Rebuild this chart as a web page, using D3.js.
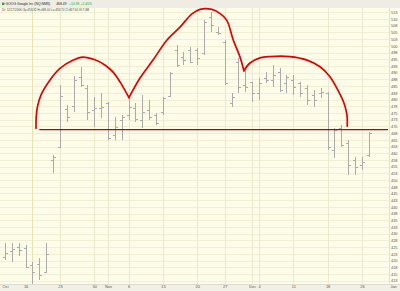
<!DOCTYPE html>
<html lang="en">
<head>
<meta charset="utf-8">
<title>GOOG | head and shoulders</title>
<style>
body { margin: 0; padding: 0; background-color: #fdfce8; }
svg { display: block; font-family: 'Liberation Sans', Arial, sans-serif; }
.axis path { display: none; }
.axis line { display: none; }
.axis text { fill: #555; font-size: 3.9px; }
.bar { stroke: #ababab; stroke-width: 1px; shape-rendering: crispEdges; }
</style>
</head>
<body>
<div id="chart"></div>
<script src="https://d3js.org/d3.v7.min.js"></script>
<script>

const days = ["10/11","10/12","10/13","10/16","10/17","10/18","10/19","10/20","10/23","10/24",
	"10/25","10/26","10/27","10/30","10/31","11/01","11/02","11/03","11/06","11/07",
	"11/08","11/09","11/10","11/13","11/14","11/15","11/16","11/17","11/20","11/21",
	"11/22","11/24","11/27","11/28","11/29","11/30","12/01","12/04","12/05","12/06",
	"12/07","12/08","12/11","12/12","12/13","12/14","12/15","12/18","12/19","12/20",
	"12/21","12/22","12/26","12/27"];

const opens = [421.3,423.6,425.1,424.6,418.3,418.7,415.6,457.5,462.2,476.4,
	477.6,488.5,484.2,476.1,476.7,478.8,466.8,472.4,474.2,476.7,
	472.4,476.1,474.2,475.5,481.3,498.5,496.0,498.5,498.5,497.2,
	510.9,505.3,501.5,478.7,494.0,485.4,486.5,482.4,488.0,487.3,
	490.4,486.0,487.3,486.2,484.3,481.7,482.4,482.3,461.2,469.4,
	463.7,457.5,455.6,459.3];

const highs = [426.4,426.4,426.7,425.8,419.6,420.8,426.4,459.3,485.4,478.0,
	488.8,492.2,485.4,480.8,482.3,479.2,473.6,474.2,480.5,478.6,
	481.7,479.8,474.9,481.1,490.4,500.3,497.8,499.7,499.1,509.6,
	512.7,507.1,502.2,482.3,495.4,491.0,486.6,487.9,490.4,492.9,
	491.6,489.1,489.1,486.6,485.4,483.5,484.2,482.9,469.3,470.5,
	464.9,458.7,458.7,468.0];

const lows = [420.2,419.6,421.7,417.1,411.3,412.8,415.3,452.5,461.8,471.7,
	475.5,484.8,472.4,469.9,473.0,464.9,464.9,464.9,472.4,471.7,
	469.3,472.4,470.5,474.2,481.1,492.2,492.9,493.5,492.9,496.6,
	505.3,504.0,485.4,477.3,482.3,482.8,479.2,479.8,486.0,484.8,
	482.9,482.3,481.7,481.1,478.0,477.3,480.5,461.2,458.1,462.4,
	451.9,451.9,453.7,458.7];

const closes = [422.9,424.2,423.9,417.5,415.9,414.6,422.4,458.7,481.3,473.4,
	487.3,485.4,475.5,476.7,477.3,465.6,469.9,473.6,477.3,472.6,
	475.5,473.6,471.1,480.5,489.8,492.9,494.7,494.1,495.4,509.0,
	507.8,504.7,486.0,481.1,484.8,484.6,482.4,486.2,487.3,489.1,
	483.5,488.5,484.8,482.4,479.8,479.8,482.9,462.4,468.6,463.1,
	455.6,455.0,456.8,467.6];

const priceTicks = [512.5,510,507.5,505,502.5,500,497.5,495,492.5,490,487.5,485,482.5,480,
	477.5,475,472.5,470,467.5,465,462.5,460,457.5,455,452.5,450,447.5,445,442.5,440,
	437.5,435,432.5,430,427.5,425,422.5,420,417.5,415,412.5];

const dateTickDays = [0, 3, 8, 13, 15, 18, 23, 28, 32, 36, 37, 42, 47, 52, 57];
const dateTickLabels = ["Oct","16","23","30","Nov","6","13","20","27","Dec","4","11","18","26","Jan"];

const gridDays = [4, 8, 13, 15, 18, 23, 28, 32, 36, 37, 42, 47, 52];

// hand drawn pattern, as [trading day index, price]
const leftShoulder = [[4.52,469.3],[4.55,473.5],[4.75,477.6],[5.3,482.0],[6.56,487.3],[8.01,491.6],
	[9.95,494.7],[11.3,495.8],[13.1,494.8],[14.6,492.8],[15.75,490.2],[16.8,486.4],[18.06,480.7]];
const head = [[18.06,480.7],[19.67,488.0],[21.56,494.7],[23.6,502.2],[25.49,507.0],[27.24,511.9],
	[28.4,513.6],[30.15,513.6],[31.3,512.1],[32.3,509.6],[33.25,502.2],[34.23,495.9],[34.81,490.7]];
const rightShoulder = [[34.81,490.7],[35.69,493.6],[37.14,495.5],[38.6,496.0],[41.51,496.0],[44.0,494.7],
	[45.9,492.2],[47.34,488.5],[48.5,483.5],[49.38,478.7],[49.82,474.2],[49.86,470.1]];
const neckline = [[5.0,468.8],[55.8,468.8]];

const header = {
	name: "GOOG Google Inc (NQ:NMS)",
	last: "468.49",
	change: "+10.96  +2.40%",
	detail: "Dt: 12/27/2006 Op:459.32 Hi:468.00 Lo:458.70 Cl:467.60 Vl:7.0M"
};

drawChart();

function drawChart(){

	const width = 400,
		height = 291,
		plotRight = 389,
		plotTop = 8,
		plotBottom = 284;

	const svg = d3.select("#chart")
		.append("svg")
		.attr("width", width)
		.attr("height", height);

	const xScale = d3.scaleLinear()
		.domain([0, days.length - 1])
		.range([5, 368.8]);

	const yScale = d3.scaleLinear()
		.domain([412.5, 512.5])
		.range([280.7, 12.3]);

	// backgrounds
	svg.append("rect")
		.attr("width", width)
		.attr("height", height)
		.attr("fill", "#fdfce8");

	svg.append("rect")
		.attr("width", width)
		.attr("height", plotTop)
		.attr("fill", "#efede3");

	svg.append("rect")
		.attr("y", plotBottom)
		.attr("width", width)
		.attr("height", height - plotBottom)
		.attr("fill", "#f1f0e6");

	// grid
	svg.selectAll(null)
		.data(priceTicks)
		.enter()
		.append("line")
		.attr("x1", 0)
		.attr("x2", plotRight)
		.attr("y1", function(d){ return Math.round(yScale(d)) + 0.5; })
		.attr("y2", function(d){ return Math.round(yScale(d)) + 0.5; })
		.style("stroke", "#f1efd3")
		.style("stroke-width", "1px");

	svg.selectAll(null)
		.data(gridDays)
		.enter()
		.append("line")
		.attr("x1", function(d){ return Math.round(xScale(d)) + 0.5; })
		.attr("x2", function(d){ return Math.round(xScale(d)) + 0.5; })
		.attr("y1", plotTop)
		.attr("y2", plotBottom)
		.style("stroke", function(d){ return d === 4 ? "#e6e2b4" : "#ebe9cf"; })
		.style("stroke-width", "1px");

	svg.append("line")
		.attr("x1", plotRight + 0.5)
		.attr("x2", plotRight + 0.5)
		.attr("y1", plotTop)
		.attr("y2", plotBottom)
		.style("stroke", "#e4e1c6");

	svg.append("line")
		.attr("x1", 0)
		.attr("x2", width)
		.attr("y1", plotBottom + 0.5)
		.attr("y2", plotBottom + 0.5)
		.style("stroke", "#deddd0");

	// OHLC bars
	const bars = svg.selectAll(null)
		.data(days)
		.enter()
		.append("g");

	bars.append("line")
		.attr("class", "bar")
		.attr("x1", function(_, i){ return Math.round(xScale(i)) + 0.5; })
		.attr("x2", function(_, i){ return Math.round(xScale(i)) + 0.5; })
		.attr("y1", function(_, i){ return yScale(highs[i]); })
		.attr("y2", function(_, i){ return yScale(lows[i]); });

	bars.append("line")
		.attr("class", "bar")
		.attr("x1", function(_, i){ return Math.round(xScale(i)) - 2; })
		.attr("x2", function(_, i){ return Math.round(xScale(i)); })
		.attr("y1", function(_, i){ return Math.round(yScale(opens[i])) + 0.5; })
		.attr("y2", function(_, i){ return Math.round(yScale(opens[i])) + 0.5; });

	bars.append("line")
		.attr("class", "bar")
		.attr("x1", function(_, i){ return Math.round(xScale(i)) + 1; })
		.attr("x2", function(_, i){ return Math.round(xScale(i)) + 3; })
		.attr("y1", function(_, i){ return Math.round(yScale(closes[i])) + 0.5; })
		.attr("y2", function(_, i){ return Math.round(yScale(closes[i])) + 0.5; });

	// axes
	const yAxis = d3.axisRight(yScale)
		.tickValues(priceTicks)
		.tickSize(0)
		.tickPadding(0)
		.tickFormat(function(d){ return Math.round(d); });

	svg.append("g")
		.attr("class", "axis")
		.attr("transform", "translate(391,0)")
		.call(yAxis);

	const xAxis = d3.axisBottom(xScale)
		.tickValues(dateTickDays)
		.tickSize(0)
		.tickPadding(0)
		.tickFormat(function(_, i){ return dateTickLabels[i]; });

	const gX = svg.append("g")
		.attr("class", "axis")
		.attr("transform", "translate(0," + (plotBottom + 1.5) + ")")
		.call(xAxis);

	gX.selectAll("text")
		.attr("text-anchor", function(_, i, n){ return i === n.length - 1 ? "end" : "middle"; })
		.attr("fill", "#444");

	// pattern drawing
	const line = d3.line()
		.x(function(d){ return xScale(d[0]); })
		.y(function(d){ return yScale(d[1]); })
		.curve(d3.curveCatmullRom.alpha(0.5));

	svg.selectAll(null)
		.data([leftShoulder, head, rightShoulder])
		.enter()
		.append("path")
		.attr("d", line)
		.style("fill", "none")
		.style("stroke", "#e30000")
		.style("stroke-width", "1.7px")
		.style("stroke-linejoin", "round")
		.style("stroke-linecap", "round");

	svg.append("path")
		.attr("d", d3.line()
			.x(function(d){ return xScale(d[0]); })
			.y(function(d){ return yScale(d[1]); })(neckline))
		.style("fill", "none")
		.style("stroke", "#b80000")
		.style("stroke-width", "1.3px");

	// header
	svg.append("rect")
		.attr("x", 2)
		.attr("y", 2.6)
		.attr("width", 2.4)
		.attr("height", 2.4)
		.attr("fill", "#3a9a3a");

	const title = svg.append("text")
		.attr("x", 5.5)
		.attr("y", 5.4)
		.style("font-size", "3.4px")
		.style("fill", "#222");

	title.append("tspan").text(header.name);
	title.append("tspan").attr("dx", 6).text(header.last);
	title.append("tspan").attr("dx", 2.5).style("fill", "#2aa82a").text(header.change);

	svg.append("text")
		.attr("x", 2)
		.attr("y", 11.3)
		.style("font-size", "3px")
		.style("fill", "#444")
		.text(header.detail);

}

</script>
</body>
</html>
